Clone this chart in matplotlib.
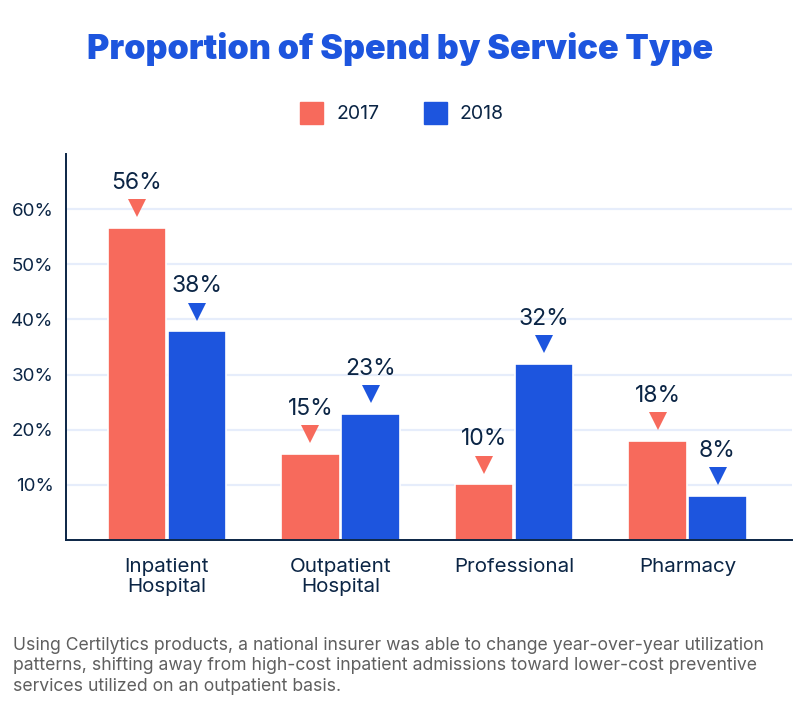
import matplotlib.pyplot as plt
import matplotlib.transforms as mtrans
import numpy as np

plt.rcParams['font.family'] = ['Inter', 'DejaVu Sans']

categories = ['Inpatient\nHospital', 'Outpatient\nHospital', 'Professional', 'Pharmacy']
values_2017 = [56.6, 15.6, 10.1, 18.0]
values_2018 = [37.9, 22.9, 32.0, 8.0]
labels_2017 = ['56%', '15%', '10%', '18%']
labels_2018 = ['38%', '23%', '32%', '8%']
ytick_values = [10, 20, 30, 40, 50, 60]
ytick_labels = ['10%', '20%', '30%', '40%', '50%', '60%']

RED = '#F76A5C'
BLUE = '#1D55DE'
NAVY = '#0B2545'
GRID = '#E6EDFB'
FOOT = '#5F5F5F'

W, H = 800, 726
fig = plt.figure(figsize=(W / 100, H / 100), dpi=100)
# axes box measured in pixels off the reference
ax = fig.add_axes([66 / W, 1 - 540 / H, (792 - 66) / W, (540 - 154) / H])

x = np.arange(len(categories))
bar_w = 0.335
off = 0.173

ax.set_axisbelow(True)
ax.yaxis.grid(True, color=GRID, lw=1.6)
ax.bar(x - off, values_2017, bar_w, color=RED, edgecolor='white', linewidth=1.2)
ax.bar(x + off, values_2018, bar_w, color=BLUE, edgecolor='white', linewidth=1.2)

# triangle and value sit a fixed distance above each bar
tri = mtrans.offset_copy(ax.transData, fig=fig, x=0, y=19.5 * 0.72, units='points')
for xs, vals, labs, col in [(x - off, values_2017, labels_2017, RED),
                            (x + off, values_2018, labels_2018, BLUE)]:
    ax.plot(xs, vals, 'v', color=col, ms=13.5, mew=0, transform=tri, clip_on=False)
    for xi, v, lab in zip(xs, vals, labs):
        ax.annotate(lab, (xi, v), xytext=(0, 45 * 0.72), textcoords='offset points',
                    ha='center', va='center', fontsize=16.5, color=NAVY)

ax.set_xlim(-0.582, 3.602)
ax.set_ylim(0, 70)
ax.set_xticks(x)
ax.set_xticklabels(categories, fontsize=14.8, color=NAVY, linespacing=1.12)
ax.set_yticks(ytick_values)
ax.set_yticklabels(ytick_labels, fontsize=13.5, color=NAVY)
ax.tick_params(axis='both', length=0)
ax.tick_params(axis='x', pad=13)
ax.tick_params(axis='y', pad=9)
for s in ['top', 'right']:
    ax.spines[s].set_visible(False)
for s in ['left', 'bottom']:
    ax.spines[s].set_color(NAVY)
    ax.spines[s].set_linewidth(1.4)

fig.text(400 / W, 1 - 48.5 / H, 'Proportion of Spend by Service Type', ha='center', va='center',
         fontsize=24.6, fontweight='black', color=BLUE)

# legend built by hand to hit the reference spacing
for px, col, lab in [(300, RED, '2017'), (424, BLUE, '2018')]:
    fig.patches.append(plt.Rectangle((px / W, 1 - 124 / H), 23 / W, 22 / H, color=col,
                                     transform=fig.transFigure))
    fig.text((px + 36) / W, 1 - 114 / H, lab, ha='left', va='center', fontsize=14, color=NAVY)

foot = ('Using Certilytics products, a national insurer was able to change year-over-year utilization\n'
        'patterns, shifting away from high-cost inpatient admissions toward lower-cost preventive\n'
        'services utilized on an outpatient basis.')
fig.text(13 / W, 1 - 666 / H, foot, ha='left', va='center', fontsize=12.68, color=FOOT, linespacing=1.28)

fig.savefig('out.png', dpi=100)
